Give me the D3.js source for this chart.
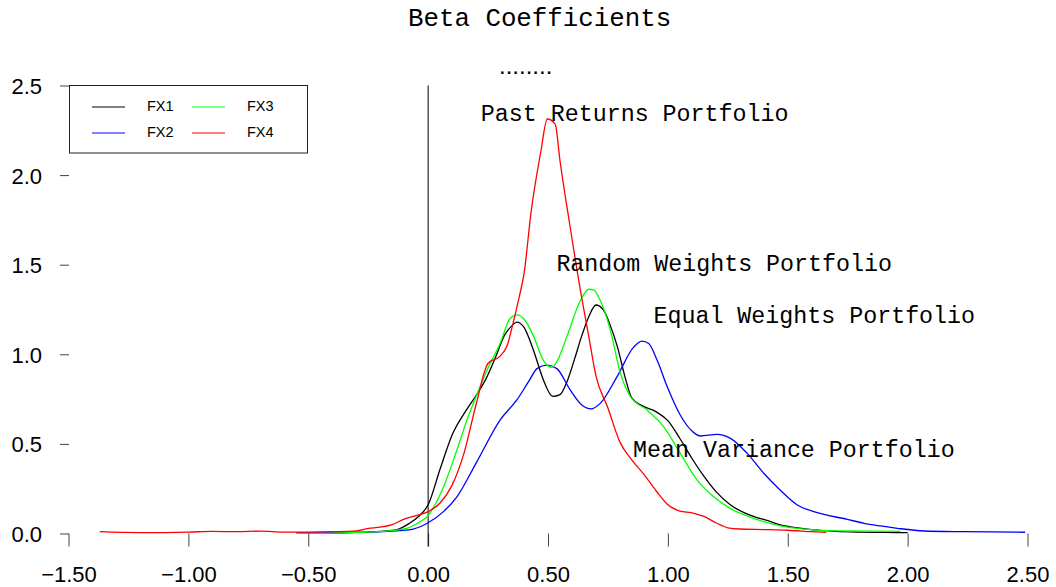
<!DOCTYPE html>
<html>
<head>
<meta charset="utf-8">
<script src="https://cdn.jsdelivr.net/npm/d3@7"></script>
<style>
  body { margin: 0; background: #fff; }
  svg { display: block; }
</style>
</head>
<body>
<script>
// chart data: density curves of beta coefficients, [beta, density]
var xTicks = [-1.5, -1.0, -0.5, 0.0, 0.5, 1.0, 1.5, 2.0, 2.5];
var yTicks = [0.0, 0.5, 1.0, 1.5, 2.0, 2.5];
var seriesNames = ["FX1", "FX2", "FX3", "FX4"];
var seriesColors = ["#000000", "#0000ff", "#00ff00", "#ff0000"];

var fx1 = [[-0.4,0.003],[-0.3,0.006],[-0.2,0.012],[-0.13,0.022],[-0.08,0.055],[-0.04,0.095],
  [0,0.16],[0.05,0.36],[0.1,0.55],[0.16,0.69],[0.2,0.77],[0.24,0.86],[0.28,0.98],[0.32,1.11],
  [0.35,1.16],[0.37,1.18],[0.4,1.15],[0.44,1.02],[0.48,0.86],[0.52,0.765],[0.55,0.775],
  [0.58,0.85],[0.61,0.97],[0.64,1.1],[0.67,1.21],[0.7,1.275],[0.73,1.25],[0.76,1.16],
  [0.79,1.04],[0.82,0.88],[0.85,0.755],[0.89,0.715],[0.95,0.68],[1.0,0.63],[1.05,0.53],
  [1.1,0.42],[1.15,0.32],[1.2,0.235],[1.26,0.16],[1.32,0.115],[1.36,0.094],[1.42,0.07],
  [1.47,0.048],[1.55,0.03],[1.61,0.02],[1.7,0.012],[1.8,0.008],[1.9,0.006],[2.0,0.005]];

var fx2 = [[-0.55,0.003],[-0.4,0.004],[-0.3,0.006],[-0.19,0.01],[-0.12,0.016],[-0.062,0.025],
  [0,0.06],[0.064,0.122],[0.12,0.205],[0.203,0.4],[0.3,0.633],[0.37,0.745],[0.42,0.85],
  [0.454,0.92],[0.495,0.94],[0.537,0.92],[0.593,0.8],[0.641,0.717],[0.679,0.695],[0.718,0.726],
  [0.788,0.875],[0.857,1.04],[0.892,1.074],[0.92,1.06],[0.955,0.968],[0.997,0.82],[1.052,0.66],
  [1.108,0.563],[1.136,0.544],[1.205,0.553],[1.261,0.531],[1.331,0.447],[1.4,0.336],[1.47,0.24],
  [1.54,0.159],[1.609,0.122],[1.748,0.079],[1.818,0.057],[1.887,0.042],[1.957,0.029],
  [2.069,0.014],[2.236,0.01],[2.49,0.007]];

var fx3 = [[-0.4,0.003],[-0.3,0.006],[-0.19,0.012],[-0.09,0.029],[-0.034,0.066],[0,0.1],
  [0.02,0.14],[0.064,0.26],[0.12,0.466],[0.162,0.633],[0.217,0.82],[0.245,0.91],[0.3,1.06],
  [0.342,1.2],[0.37,1.22],[0.404,1.19],[0.44,1.1],[0.48,0.968],[0.516,0.927],[0.537,0.959],
  [0.579,1.1],[0.635,1.3],[0.67,1.363],[0.69,1.36],[0.718,1.3],[0.76,1.135],[0.802,0.894],
  [0.844,0.763],[0.913,0.689],[0.982,0.596],[1.052,0.447],[1.122,0.298],[1.191,0.205],
  [1.26,0.14],[1.358,0.085],[1.47,0.042],[1.609,0.02],[1.75,0.014],[1.89,0.013],[1.97,0.012]];

var fx4 = [[-1.37,0.01],[-1.2,0.005],[-1.0,0.008],[-0.9,0.012],[-0.8,0.01],[-0.7,0.013],
  [-0.6,0.008],[-0.5,0.008],[-0.4,0.01],[-0.3,0.015],[-0.25,0.028],[-0.2,0.035],[-0.15,0.05],
  [-0.1,0.08],[-0.05,0.1],[0,0.122],[0.05,0.17],[0.1,0.27],[0.15,0.45],[0.2,0.72],[0.25,0.95],
  [0.3,0.99],[0.33,1.05],[0.35,1.15],[0.38,1.32],[0.4,1.45],[0.43,1.8],[0.47,2.13],[0.497,2.313],
  [0.53,2.285],[0.55,2.08],[0.59,1.73],[0.64,1.32],[0.67,1.1],[0.7,0.88],[0.75,0.7],[0.8,0.51],
  [0.85,0.41],[0.9,0.33],[0.95,0.24],[1.0,0.16],[1.05,0.125],[1.1,0.115],[1.15,0.095],[1.2,0.06],
  [1.25,0.032],[1.3,0.025],[1.4,0.022],[1.5,0.018],[1.6,0.01],[1.66,0.006]];

var seriesData = [fx1, fx2, fx3, fx4];

// text annotations on the plot: [label, beta, density]
var annotations = [
  ["Past Returns Portfolio", 0.22, 2.3],
  ["Random Weights Portfolio", 0.535, 1.465],
  ["Equal Weights Portfolio", 0.94, 1.175],
  ["Mean Variance Portfolio", 0.855, 0.425]
];

var W = 1056, H = 587;

var svg = d3.select("body")
  .append("svg")
    .attr("width", W)
    .attr("height", H);

// scales
var x = d3.scaleLinear()
  .domain([-1.5, 2.5])
  .range([68.5, 1027.5]);

var y = d3.scaleLinear()
  .domain([0, 2.5])
  .range([533.5, 85.5]);

// title
svg.append("text")
  .attr("x", 408)
  .attr("y", 26)
  .style("font-family", "'Liberation Mono', 'Courier New', monospace")
  .style("font-size", "25.8px")
  .attr("fill", "#000")
  .text("Beta Coefficients");

svg.append("text")
  .attr("x", 499)
  .attr("y", 74)
  .style("font-family", "'Liberation Sans', Arial, sans-serif")
  .style("font-size", "24px")
  .attr("fill", "#000")
  .text("........");

// X axis (ticks only, no domain line)
var xAxis = svg.append("g")
  .attr("transform", "translate(0," + y(0) + ")")
  .call(d3.axisBottom(x).tickValues(xTicks).tickSize(13).tickFormat(d3.format(".2f")));
xAxis.select(".domain").remove();
xAxis.selectAll("line").attr("stroke", "#444");
xAxis.selectAll("text")
  .attr("y", 48)
  .attr("dy", 0)
  .attr("fill", "#000")
  .style("font-family", "'Liberation Sans', Arial, sans-serif")
  .style("font-size", "22px");

// Y axis
var yAxis = svg.append("g")
  .attr("transform", "translate(69,0)")
  .call(d3.axisLeft(y).tickValues(yTicks).tickSize(9).tickFormat(d3.format(".1f")));
yAxis.select(".domain").remove();
yAxis.selectAll("line").attr("stroke", "#444");
yAxis.selectAll("text")
  .attr("x", -27)
  .attr("dy", "0.36em")
  .attr("fill", "#000")
  .style("font-family", "'Liberation Sans', Arial, sans-serif")
  .style("font-size", "22px");

// vertical line at beta = 0
svg.append("line")
  .attr("x1", x(0)).attr("x2", x(0))
  .attr("y1", y(2.5)).attr("y2", y(0) + 13)
  .attr("stroke", "#000")
  .attr("stroke-width", 1);

// density curves
var line = d3.line()
  .x(function(d) { return x(d[0]); })
  .y(function(d) { return y(d[1]); })
  .curve(d3.curveMonotoneX);

svg.selectAll("path.curve")
  .data(seriesData)
  .enter()
  .append("path")
    .attr("class", "curve")
    .attr("d", line)
    .attr("fill", "none")
    .attr("stroke", function(d, i) { return seriesColors[i]; })
    .attr("stroke-width", 1.3);

// annotations
svg.selectAll("text.note")
  .data(annotations)
  .enter()
  .append("text")
    .attr("class", "note")
    .attr("x", function(d) { return x(d[1]); })
    .attr("y", function(d) { return y(d[2]); })
    .style("font-family", "'Liberation Mono', 'Courier New', monospace")
    .style("font-size", "23.3px")
    .attr("fill", "#000")
    .text(function(d) { return d[0]; });

// legend
var legend = svg.append("g");
legend.append("rect")
  .attr("x", 69.5).attr("y", 85.5)
  .attr("width", 238).attr("height", 67.5)
  .attr("fill", "none")
  .attr("stroke", "#222")
  .attr("stroke-width", 1);

var legendPos = [[92, 107], [92, 133], [192, 107], [192, 133]];
var item = legend.selectAll("g.item")
  .data(seriesNames)
  .enter()
  .append("g")
    .attr("class", "item")
    .attr("transform", function(d, i) { return "translate(" + legendPos[i][0] + "," + legendPos[i][1] + ")"; });
item.append("line")
  .attr("x1", 0).attr("x2", 33)
  .attr("y1", 0).attr("y2", 0)
  .attr("stroke", function(d, i) { return seriesColors[i]; })
  .attr("stroke-width", 1);
item.append("text")
  .attr("x", 55)
  .attr("y", 4)
  .style("font-family", "'Liberation Sans', Arial, sans-serif")
  .style("font-size", "14.5px")
  .attr("fill", "#000")
  .text(function(d) { return d; });
</script>
</body>
</html>
